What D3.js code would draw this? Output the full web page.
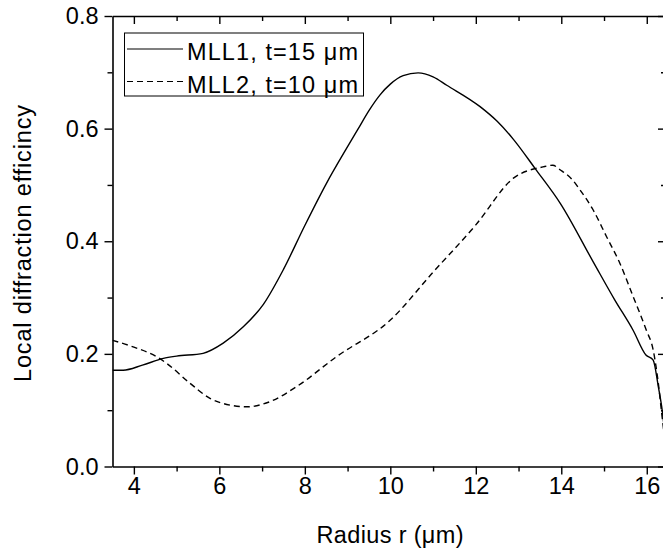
<!DOCTYPE html>
<html>
<head>
<meta charset="utf-8">
<script src="https://cdn.jsdelivr.net/npm/d3@7"></script>
<style>
html,body{margin:0;padding:0;background:#fff;}
svg{display:block;}
text{font-family:"Liberation Sans",Arial,sans-serif;fill:#000;}
</style>
</head>
<body>
<svg id="chart" width="663" height="557"></svg>
<script>
// ---- data ----
const r1 = [3.5, 3.75, 4.2, 4.69, 5.0, 5.62, 6.09, 6.56, 7.03, 7.5, 8.0, 8.5, 9.0, 9.25, 9.5, 9.76, 10.0, 10.3, 10.65, 11.0, 11.32, 12.1, 12.5, 12.88, 13.38, 13.98, 14.75, 15.25, 15.68, 15.98, 16.15, 16.27, 16.35, 16.45];
const v1 = [0.171, 0.171, 0.180, 0.192, 0.196, 0.201, 0.219, 0.248, 0.288, 0.350, 0.428, 0.502, 0.568, 0.600, 0.632, 0.660, 0.679, 0.694, 0.699, 0.692, 0.677, 0.639, 0.613, 0.581, 0.530, 0.467, 0.363, 0.296, 0.242, 0.198, 0.189, 0.142, 0.106, 0.04];
const r2 = [3.5, 4.0, 4.53, 4.77, 5.31, 5.78, 6.25, 6.64, 7.18, 7.81, 8.74, 10.0, 11.0, 12.0, 12.88, 13.57, 13.8, 13.97, 14.25, 14.44, 14.75, 15.06, 15.37, 15.68, 15.99, 16.15, 16.27, 16.35, 16.45];
const v2 = [0.224, 0.212, 0.195, 0.183, 0.148, 0.121, 0.109, 0.106, 0.115, 0.142, 0.195, 0.26, 0.345, 0.429, 0.512, 0.532, 0.535, 0.527, 0.51, 0.491, 0.455, 0.408, 0.361, 0.302, 0.242, 0.207, 0.148, 0.094, 0.03];
const seriesNames = ["MLL1, t=15 \u03bcm", "MLL2, t=10 \u03bcm"];
const xMajor = [4, 6, 8, 10, 12, 14, 16];
const xMinor = [5, 7, 9, 11, 13, 15];
const yMajor = [0.0, 0.2, 0.4, 0.6, 0.8];
const yMinor = [0.1, 0.3, 0.5, 0.7];
const xTitle = "Radius r (\u03bcm)";
const yTitle = "Local diffraction efficincy";

// ---- layout ----
const pL = 112.5, pR = 666, pT = 16, pB = 466.5;
const FS = 23.5;
const svg = d3.select("#chart");
const x = d3.scaleLinear().domain([3.5, 16.45]).range([pL, pR]);
const y = d3.scaleLinear().domain([0, 0.8]).range([pB, pT]);

svg.append("clipPath").attr("id","pc").append("rect")
  .attr("x", pL).attr("y", pT).attr("width", pR-pL).attr("height", pB-pT);

const line = d3.line().x(d=>x(d[0])).y(d=>y(d[1])).curve(d3.curveMonotoneX);
const s1 = r1.map((r,i)=>[r, v1[i]]);
const s2 = r2.map((r,i)=>[r, v2[i]]);
const g = svg.append("g").attr("clip-path","url(#pc)");
g.append("path").attr("d", line(s1)).attr("fill","none").attr("stroke","#000").attr("stroke-width",1.4);
g.append("path").attr("d", line(s2)).attr("fill","none").attr("stroke","#000").attr("stroke-width",1.4).attr("stroke-dasharray","6,4");

function styleAxis(sel){
  sel.select(".domain").attr("stroke","#000").attr("stroke-width",1.6);
  sel.selectAll(".tick line").attr("stroke","#000").attr("stroke-width",1.4);
  sel.selectAll("text").style("font-size", FS+"px").style("font-family",'"Liberation Sans",Arial,sans-serif');
}
function minor(sel){
  sel.select(".domain").remove();
  sel.selectAll("line").attr("stroke","#000").attr("stroke-width",1.4);
}
// bottom axis
const gb = svg.append("g").attr("transform",`translate(0,${pB})`)
  .call(d3.axisBottom(x).tickValues(xMajor).tickSize(8).tickSizeOuter(0).tickPadding(3).tickFormat(d3.format("d")));
styleAxis(gb);
svg.append("g").attr("transform",`translate(0,${pB})`)
  .call(d3.axisBottom(x).tickValues(xMinor).tickSize(5).tickSizeOuter(0).tickFormat("")).call(minor);
// top axis (inward)
const gt = svg.append("g").attr("transform",`translate(0,${pT})`)
  .call(d3.axisBottom(x).tickValues(xMajor).tickSize(8).tickSizeOuter(0).tickFormat(""));
styleAxis(gt);
svg.append("g").attr("transform",`translate(0,${pT})`)
  .call(d3.axisBottom(x).tickValues(xMinor).tickSize(5).tickSizeOuter(0).tickFormat("")).call(minor);
// left axis
const gl = svg.append("g").attr("transform",`translate(${pL},0)`)
  .call(d3.axisLeft(y).tickValues(yMajor).tickSize(8).tickSizeOuter(0).tickPadding(6).tickFormat(d3.format(".1f")));
styleAxis(gl);
svg.append("g").attr("transform",`translate(${pL},0)`)
  .call(d3.axisLeft(y).tickValues(yMinor).tickSize(5).tickSizeOuter(0).tickFormat("")).call(minor);
// right axis (inward)
const gr = svg.append("g").attr("transform",`translate(${pR},0)`)
  .call(d3.axisLeft(y).tickValues(yMajor).tickSize(8).tickSizeOuter(0).tickFormat(""));
styleAxis(gr);
svg.append("g").attr("transform",`translate(${pR},0)`)
  .call(d3.axisLeft(y).tickValues(yMinor).tickSize(5).tickSizeOuter(0).tickFormat("")).call(minor);

// axis titles
svg.append("text").attr("x", 390).attr("y", 543).attr("text-anchor","middle")
  .attr("textLength",147).attr("lengthAdjust","spacing")
  .style("font-size", FS+"px").text(xTitle);
svg.append("text").attr("transform",`translate(31,243.5) rotate(-90)`).attr("text-anchor","middle")
  .attr("textLength",277).attr("lengthAdjust","spacing")
  .style("font-size", FS+"px").text(yTitle);

// legend
const lg = svg.append("g");
lg.append("rect").attr("x",124.5).attr("y",33).attr("width",239).attr("height",63)
  .attr("fill","#fff").attr("stroke","#000").attr("stroke-width",1);
const dashes = [null, "6,4"];
dashes.forEach((dsh,i)=>{
  const yy = 49 + i*32.5;
  lg.append("line").attr("x1",127).attr("x2",183).attr("y1",yy).attr("y2",yy)
    .attr("stroke","#000").attr("stroke-width",1.2).attr("stroke-dasharray",dsh);
  lg.append("text").attr("x",187).attr("y",yy+11).style("font-size",FS+"px")
    .attr("textLength",171).attr("lengthAdjust","spacing").text(seriesNames[i]);
});
</script>
</body>
</html>
